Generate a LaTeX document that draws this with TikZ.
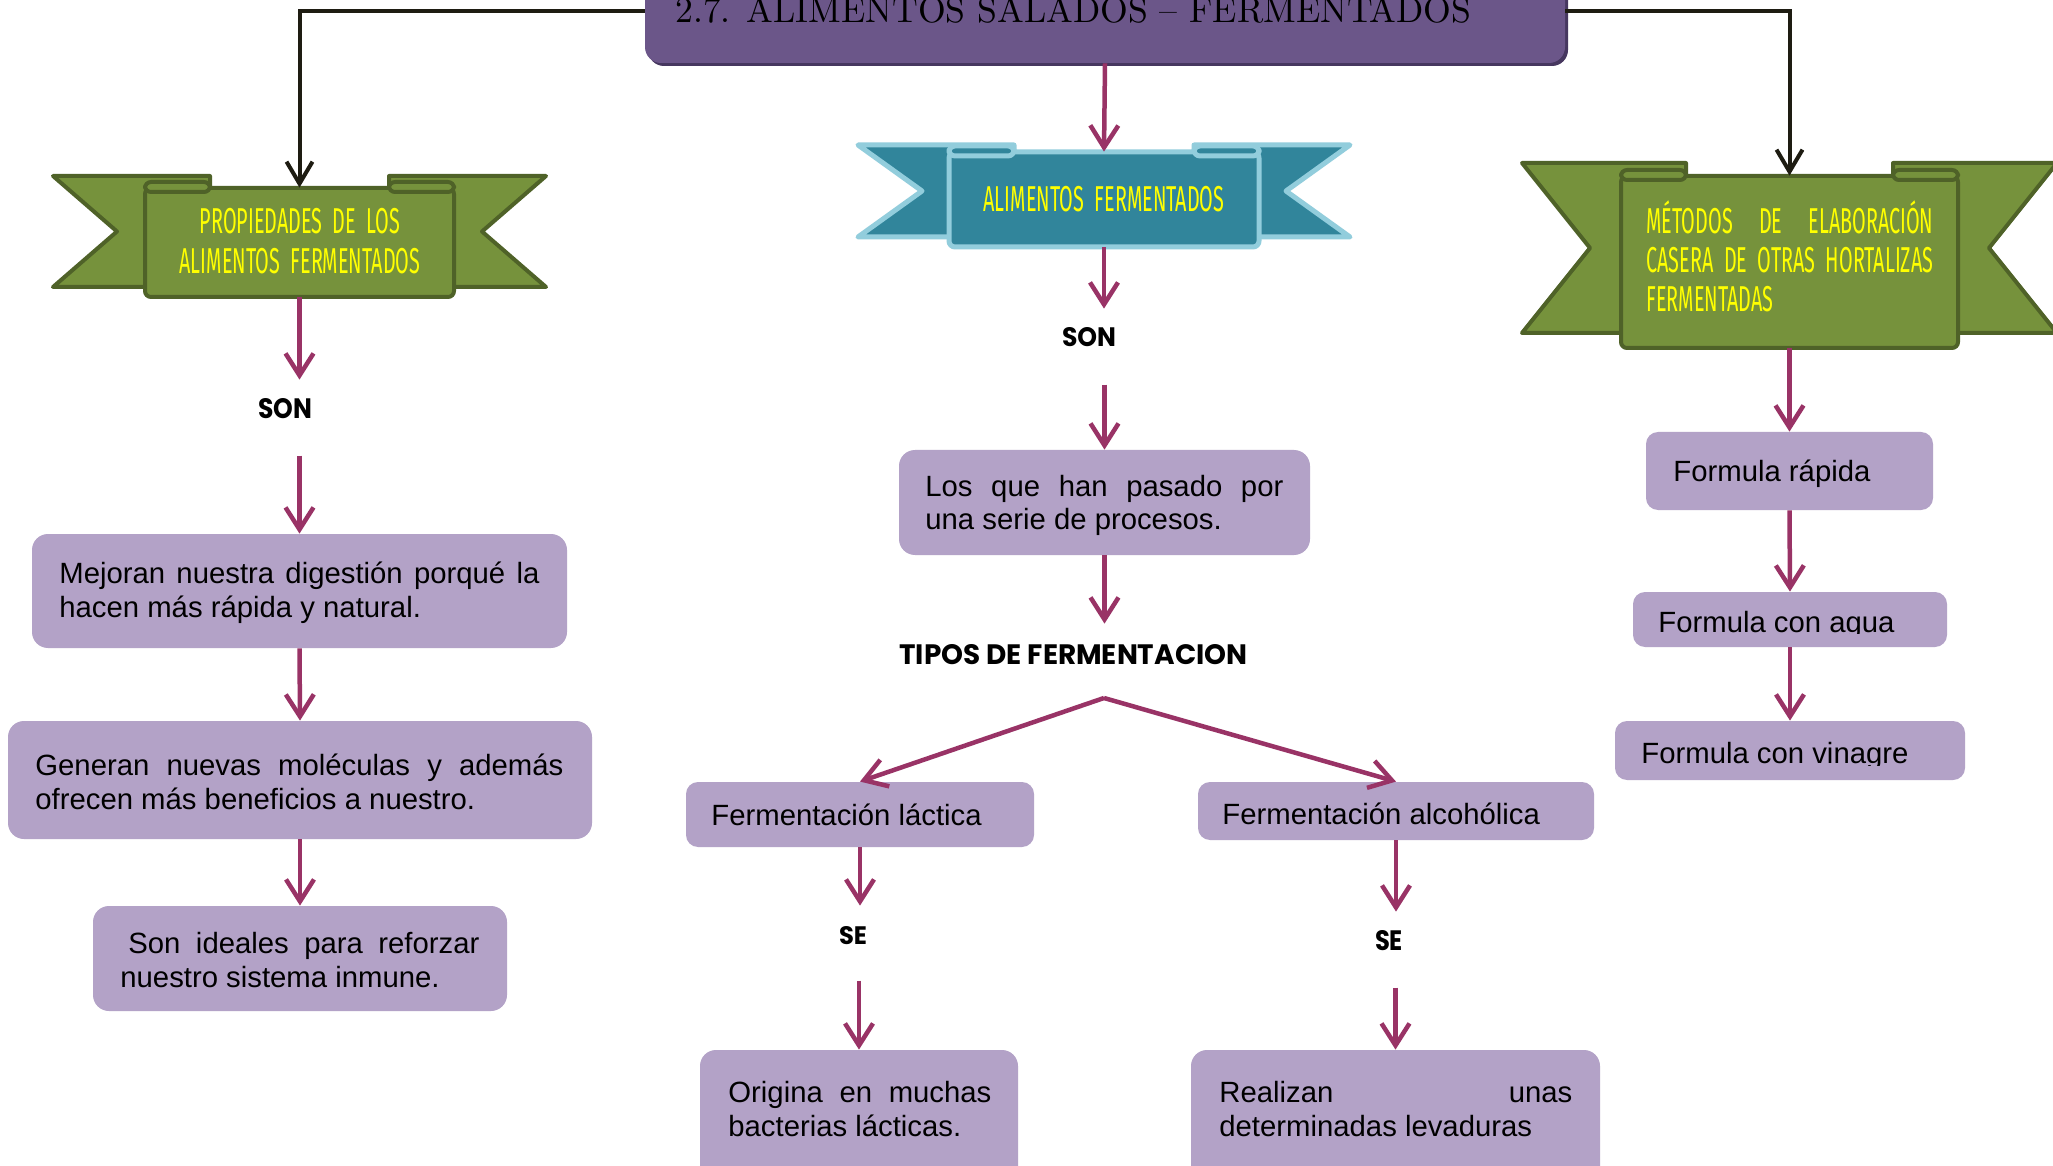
\documentclass[tikz,border=0pt]{standalone}
\usepackage{fontspec}
\usepackage{graphicx}
\usetikzlibrary{arrows.meta,fit}
\newfontfamily\arialf{Liberation Sans}
\newfontfamily\agencyf{Fira Sans}[FakeStretch=0.55,WordSpace=2]
\newfontfamily\berlinf{Poppins}
\definecolor{mag}{RGB}{153,51,102}
\definecolor{kline}{RGB}{30,28,18}
\definecolor{lav}{RGB}{179,162,199}
\definecolor{titlefill}{RGB}{107,86,137}
\definecolor{titledark}{RGB}{70,55,95}
\definecolor{gfill}{RGB}{118,146,60}
\definecolor{gdraw}{RGB}{79,98,40}
\definecolor{tfill}{RGB}{49,133,155}
\definecolor{tdraw}{RGB}{146,205,220}
\definecolor{yel}{RGB}{255,255,0}
\newcommand\jline[2]{\makebox[#1][s]{#2}}
% #1 style, #2 outer left x, #3 notch x, #4 panel left, #5 panel right,
% #6 wing top, #7 panel top, #8 panel bottom, #9 wing bottom
\newcommand\ribbon[9]{%
 \pgfmathsetmacro\rc{(#4+#5)/2}%
 \pgfmathsetmacro\rOR{2*\rc-(#2)}%
 \pgfmathsetmacro\rNR{2*\rc-(#3)}%
 \pgfmathsetmacro\rTL{#4+65}%
 \pgfmathsetmacro\rTR{#5-65}%
 \pgfmathsetmacro\rmid{(#6+#9)/2}%
 \draw[#1] (#2,#6) -- (\rTL,#6) -- (\rTL,#9) -- (#2,#9) -- (#3,\rmid) -- cycle;
 \draw[#1] (\rOR,#6) -- (\rTR,#6) -- (\rTR,#9) -- (\rOR,#9) -- (\rNR,\rmid) -- cycle;
 \draw[#1, rounded corners=3pt] (#4,#7) rectangle (#5,#8);
 \draw[#1, rounded corners=3pt] (#4,#7-6) rectangle (\rTL,#7+4);
 \draw[#1, rounded corners=3pt] (\rTR,#7-6) rectangle (#5,#7+4);
}
\begin{document}
\begin{tikzpicture}[x=0.5pt,y=-0.5pt,
 pbox/.style={fill=lav, rounded corners=8pt, inner sep=0pt, draw=none},
 sbox/.style={pbox, rounded corners=6pt},
 panelnode/.style={inner sep=0pt, draw=none},
 txt/.style={inner sep=0pt, font=\arialf\fontsize{14.65pt}{17pt}\selectfont, text=black},
 lbl/.style={inner sep=0pt, font=\berlinf\bfseries, text=black},
 bantext/.style={inner sep=0pt, font=\agencyf\fontsize{18pt}{20pt}\selectfont, text=yel},
 marr/.style={draw=mag, line width=2.25pt, -{Straight Barb[length=11pt,width=14pt]}},
 karr/.style={draw=kline, line width=2pt, -{Straight Barb[length=11pt,width=13pt]}},
 grib/.style={fill=gfill, draw=gdraw, line width=2pt, line join=round},
 trib/.style={fill=tfill, draw=tdraw, line width=2.5pt, line join=round},
]
\useasboundingbox (0,0) rectangle (2053,1166);
\fill[white] (0,0) rectangle (2053,1166);
\clip (0,0) rectangle (2053,1166);

% title
\fill[titledark, rounded corners=8pt] (648,-40) rectangle (1568,66);
\node[fit={(645,-40) (1565,63)}, inner sep=0pt, fill=titlefill, rounded corners=8pt] (title) {};
\node[anchor=base west, inner sep=0pt, font=\rmfamily] (titletxt) at (675,22.7)
  {\resizebox{398pt}{13pt}{2.7. ALIMENTOS SALADOS – FERMENTADOS}};

% ribbons
\ribbon{grib}{53}{117}{145}{454}{176}{188}{297}{287}
\ribbon{trib}{858}{922}{949}{1259}{145}{152}{247}{237}
\ribbon{grib}{1522}{1590}{1621}{1958}{163}{176}{348}{333}
\node[panelnode, fit={(145,188) (454,297)}] (ban1) {};
\node[panelnode, fit={(949,152) (1259,247)}] (ban2) {};
\node[panelnode, fit={(1621,176) (1958,348)}] (ban3) {};

\node[bantext, anchor=base] (ban1a) at (300,234) {PROPIEDADES DE LOS};
\node[bantext, anchor=base] (ban1b) at (300,274) {ALIMENTOS FERMENTADOS};
\node[bantext, anchor=base] (ban2a) at (1104,212) {ALIMENTOS FERMENTADOS};
\node[bantext, anchor=base west] (ban3a) at (1646,234) {\jline{143.5pt}{MÉTODOS DE ELABORACIÓN}};
\node[bantext, anchor=base west] (ban3b) at (1646,273) {\jline{143.5pt}{CASERA DE OTRAS HORTALIZAS}};
\node[bantext, anchor=base west] (ban3c) at (1646,312) {FERMENTADAS};

% boxes
\node[pbox, fit={(32,534) (567,648)}] (b1) {};
\node[pbox, fit={(8,721) (592,839)}] (b2) {};
\node[pbox, fit={(93,906) (507,1011)}] (b3) {};
\node[pbox, fit={(899,450) (1310,555)}] (b4) {};
\node[sbox, fit={(686,782) (1034,847)}] (lac) {};
\node[sbox, fit={(1198,782) (1594,840)}] (alc) {};
\node[pbox, fit={(700,1050) (1018,1200)}] (b6) {};
\node[pbox, fit={(1191,1050) (1600,1200)}] (b7) {};
\node[sbox, fit={(1646,432) (1933,510)}] (r1) {};
\node[sbox, fit={(1633,592) (1947,647)}] (r2) {};
\node[sbox, fit={(1615,721) (1965,780)}] (r3) {};

% labels
\node[lbl, anchor=base] (son1) at (285,418) {\resizebox{27pt}{10pt}{SON}};
\node[lbl, anchor=base] (son2) at (1089,347) {\resizebox{27pt}{9.5pt}{SON}};
\node[lbl, anchor=base west] (tipos) at (899,664) {\resizebox{174pt}{10pt}{TIPOS DE FERMENTACION}};
\node[lbl, anchor=base] (se1) at (853,944) {\resizebox{14pt}{9pt}{SE}};
\node[lbl, anchor=base] (se2) at (1389,950) {\resizebox{14pt}{10pt}{SE}};
\coordinate (apex) at (1104,698);

% connectors
\draw[karr] (title.west) -| (ban1.north);
\draw[karr] (title.east) -| (ban3.north);
\draw[marr] (title.south) -- (ban2.north);
\draw[marr, shorten >=9pt] (ban1.south) -- (ban1.south |- son1.north);
\draw[marr, shorten <=18.5pt] (b1.north |- son1.south) -- (b1.north);
\draw[marr] (b1.south) -- (b2.north);
\draw[marr] (b2.south) -- (b3.north);
\draw[marr, shorten >=9.5pt] (ban2.south) -- (ban2.south |- son2.north);
\draw[marr, shorten <=18.5pt] (b4.north |- son2.south) -- (b4.north);
\draw[marr, shorten >=10pt] (b4.south) -- (b4.south |- tipos.north);
\draw[marr] (apex) -- (lac.north);
\draw[marr] (apex) -- (alc.north);
\draw[marr, shorten >=10pt] (lac.south) -- (lac.south |- se1.north);
\draw[marr, shorten <=18pt] (b6.north |- se1.south) -- (b6.north);
\draw[marr, shorten >=9pt] (alc.south) -- (alc.south |- se2.north);
\draw[marr, shorten <=18.5pt] (b7.north |- se2.south) -- (b7.north);
\draw[marr] (ban3.south) -- (r1.north);
\draw[marr] (r1.south) -- (r2.north);
\draw[marr] (r2.south) -- (r3.north);

% box texts
\node[txt, anchor=base west] (b1t) at (59,583) {\parbox[t]{300pt}{\jline{240pt}{Mejoran nuestra digestión porqué la}\\hacen más rápida y natural.}};
\node[txt, anchor=base west] (b2t) at (35,775) {\parbox[t]{300pt}{\jline{264pt}{Generan nuevas moléculas y además}\\ofrecen más beneficios a nuestro.}};
\node[txt, anchor=base west] (b3t) at (120,953) {\parbox[t]{300pt}{\hspace*{4pt}\jline{175.5pt}{Son ideales para reforzar}\\nuestro sistema inmune.}};
\node[txt, anchor=base west] (b4t) at (925,496) {\parbox[t]{300pt}{\jline{179pt}{Los que han pasado por}\\una serie de procesos.}};
\node[txt, anchor=base west] (b6t) at (728,1102) {\parbox[t]{300pt}{\jline{131.5pt}{Origina en muchas}\\bacterias lácticas.}};
\node[txt, anchor=base west] (b7t) at (1219,1102) {\parbox[t]{300pt}{\jline{176.5pt}{Realizan unas}\\determinadas levaduras}};
\node[txt, anchor=base west] (lact) at (711,825) {Fermentación láctica};
\node[txt, anchor=base west] (alct) at (1222,824) {Fermentación alcohólica};
\node[txt, anchor=base west] (r1t) at (1673,481) {Formula rápida};
\begin{scope}
\clip (1633,592) rectangle (1947,633);
\node[txt, anchor=base west] (r2t) at (1658,632) {Formula con agua};
\end{scope}
\begin{scope}
\clip (1615,721) rectangle (1965,765);
\node[txt, anchor=base west] (r3t) at (1641,763) {Formula con vinagre};
\end{scope}
\end{tikzpicture}
\end{document}
